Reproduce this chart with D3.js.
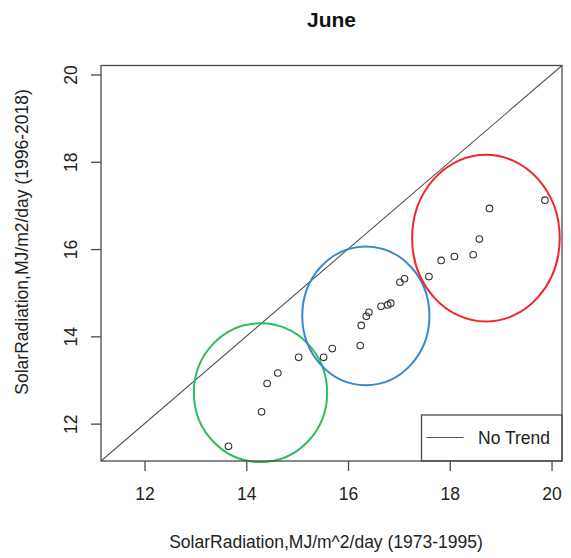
<!DOCTYPE html>
<html>
<head>
<meta charset="utf-8">
<script src="https://cdn.jsdelivr.net/npm/d3@7"></script>
<style>
  html, body { margin: 0; padding: 0; background: #fff; }
  svg { display: block; font-family: "Liberation Sans", Arial, sans-serif; }
</style>
</head>
<body>
<svg id="chart" width="571" height="558"></svg>
<script>
// Sorted June solar radiation, MJ/m^2/day, for the two periods
const early = [13.65, 14.30, 14.41, 14.62, 15.03, 15.52, 15.69, 16.24, 16.26, 16.36, 16.41, 16.65,
               16.78, 16.84, 17.02, 17.11, 17.59, 17.83, 18.09, 18.46, 18.58, 18.78, 19.87];
const late  = [11.48, 12.27, 12.92, 13.16, 13.52, 13.52, 13.72, 13.79, 14.25, 14.46, 14.55, 14.69,
               14.72, 14.76, 15.24, 15.32, 15.37, 15.74, 15.83, 15.87, 16.23, 16.93, 17.12];

const tickValues = [12, 14, 16, 18, 20];

// Groups highlighted with ellipses: centre and radii in data units
const groupNames = ["low", "mid", "high"];
const groupCx = [14.28, 16.35, 18.71];
const groupCy = [12.71, 14.47, 16.25];
const groupRx = [1.31, 1.25, 1.45];
const groupRy = [1.59, 1.59, 1.91];
const groupColors = ["#2dbd5c", "#3a87cc", "#f2262b"];

const titleText = "June";
const xLabel = "SolarRadiation,MJ/m^2/day (1973-1995)";
const yLabel = "SolarRadiation,MJ/m2/day (1996-2018)";
const legendLabel = "No Trend";

const svg = d3.select("#chart");
const plot = { left: 101, right: 562, top: 65.5, bottom: 461 };
const fontSize = 17.5;
const ink = "#222";
const frame = "#4a4a4a";

// Common limits for both axes, padded by 4% like base graphics
const all = early.concat(late);
const [lo, hi] = d3.extent(all);
const pad = (hi - lo) * 0.04;
const dom = [lo - pad, hi + pad];

const x = d3.scaleLinear().domain(dom).range([plot.left, plot.right]);
const y = d3.scaleLinear().domain(dom).range([plot.bottom, plot.top]);

svg.append("rect").attr("width", 571).attr("height", 558).attr("fill", "#fff");

// Axes
const xAxis = svg.append("g")
  .attr("transform", `translate(0,${plot.bottom})`)
  .call(d3.axisBottom(x).tickValues(tickValues).tickSize(10).tickPadding(0).tickFormat(d3.format("d")));
xAxis.select(".domain").remove();
xAxis.selectAll(".tick line").attr("stroke", frame).attr("stroke-width", 1.3);
xAxis.selectAll(".tick text")
  .attr("y", 39).attr("dy", null)
  .attr("font-size", fontSize).attr("fill", ink)
  .attr("font-family", "Liberation Sans, Arial, sans-serif");

const yAxis = svg.append("g")
  .attr("transform", `translate(${plot.left},0)`)
  .call(d3.axisLeft(y).tickValues(tickValues).tickSize(10).tickPadding(0).tickFormat(d3.format("d")));
yAxis.select(".domain").remove();
yAxis.selectAll(".tick line").attr("stroke", frame).attr("stroke-width", 1.3);
yAxis.selectAll(".tick text")
  .attr("x", null).attr("dy", null)
  .attr("text-anchor", "middle")
  .attr("transform", "translate(-24,0) rotate(-90)")
  .attr("font-size", fontSize).attr("fill", ink)
  .attr("font-family", "Liberation Sans, Arial, sans-serif");

// 1:1 reference line
svg.append("line")
  .attr("x1", x(dom[0])).attr("y1", y(dom[0]))
  .attr("x2", x(dom[1])).attr("y2", y(dom[1]))
  .attr("stroke", "#555").attr("stroke-width", 1.1);

// Group ellipses
svg.append("g").selectAll("ellipse")
  .data(groupNames)
  .join("ellipse")
  .attr("cx", (d, i) => x(groupCx[i]))
  .attr("cy", (d, i) => y(groupCy[i]))
  .attr("rx", (d, i) => x(groupCx[i] + groupRx[i]) - x(groupCx[i]))
  .attr("ry", (d, i) => y(groupCy[i]) - y(groupCy[i] + groupRy[i]))
  .attr("fill", "none")
  .attr("stroke", (d, i) => groupColors[i])
  .attr("stroke-width", 2);

// Quantile points
svg.append("g").selectAll("circle")
  .data(early)
  .join("circle")
  .attr("cx", d => x(d))
  .attr("cy", (d, i) => y(late[i]))
  .attr("r", 3.3)
  .attr("fill", "none")
  .attr("stroke", "#333")
  .attr("stroke-width", 1.1);

// Legend
const lg = { left: 421.5, top: 415 };
svg.append("rect")
  .attr("x", lg.left).attr("y", lg.top)
  .attr("width", plot.right - lg.left).attr("height", plot.bottom - lg.top)
  .attr("fill", "#fff").attr("stroke", frame).attr("stroke-width", 1.3);
svg.append("line")
  .attr("x1", 426.5).attr("x2", 463.5).attr("y1", 437.5).attr("y2", 437.5)
  .attr("stroke", "#555").attr("stroke-width", 1.2);
svg.append("text")
  .attr("x", 478).attr("y", 444)
  .attr("font-size", fontSize).attr("fill", ink)
  .text(legendLabel);

// Plot frame
svg.append("rect")
  .attr("x", plot.left).attr("y", plot.top)
  .attr("width", plot.right - plot.left).attr("height", plot.bottom - plot.top)
  .attr("fill", "none").attr("stroke", frame).attr("stroke-width", 1.3);

// Title and axis labels
svg.append("text")
  .attr("x", (plot.left + plot.right) / 2).attr("y", 27)
  .attr("text-anchor", "middle").attr("font-weight", "bold")
  .attr("font-size", 21).attr("fill", "#111")
  .text(titleText);

svg.append("text")
  .attr("x", 326).attr("y", 548)
  .attr("text-anchor", "middle")
  .attr("font-size", fontSize).attr("fill", ink)
  .text(xLabel);

svg.append("text")
  .attr("transform", "translate(28,242) rotate(-90)")
  .attr("text-anchor", "middle")
  .attr("font-size", fontSize).attr("fill", ink)
  .text(yLabel);
</script>
</body>
</html>
